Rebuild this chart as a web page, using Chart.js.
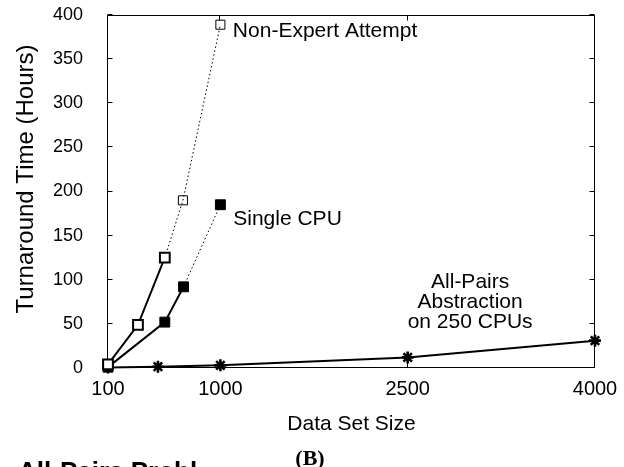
<!DOCTYPE html>
<html>
<head>
<meta charset="utf-8">
<script src="https://cdn.jsdelivr.net/npm/chart.js@4"></script>
<style>
  html, body { margin: 0; padding: 0; background: #fff; }
  canvas { display: block; }
</style>
</head>
<body>
<canvas id="turnaroundChart" width="624" height="467"></canvas>
<script>
// Data (data set size vs hours)
const xTickValues = [100, 1000, 2500, 4000];
const yTickStep = 50;

const nonExpertSizes = [100, 340, 555, 700, 1000];
const nonExpertHours = [4, 49, 125, 190, 389];

const singleCpuSizes = [100, 555, 705, 1000];
const singleCpuHours = [1, 52, 92, 185];

const allPairsSizes = [100, 500, 1000, 2500, 4000];
const allPairsHours = [0.5, 1.5, 3, 12, 31];

// curve labels, placed in data coordinates
const curveLabels = [
    { text: 'Non-Expert Attempt', x: 1100, y: 375, align: 'left' },
    { text: 'Single CPU', x: 1103, y: 162, align: 'left' },
    { text: 'All-Pairs', x: 3000, y: 90.7, align: 'center' },
    { text: 'Abstraction', x: 3000, y: 68, align: 'center' },
    { text: 'on 250 CPUs', x: 3000, y: 45, align: 'center' }
];

const toPoints = (xs, ys) => xs.map((v, i) => ({ x: v, y: ys[i] }));
// measured runs are solid, extrapolated ones dotted
const dottedFrom = 2;
const segStyle = {
    borderDash: ctx => ctx.p0DataIndex >= dottedFrom ? [1.5, 2.5] : undefined,
    borderWidth: ctx => ctx.p0DataIndex >= dottedFrom ? 1 : 2
};

Chart.defaults.font.family = '"Liberation Sans", Arial, Helvetica, sans-serif';
Chart.defaults.color = '#000';

const framePlugin = {
    id: 'frame',
    beforeDatasetsDraw(chart) {
        const { ctx, chartArea: a, scales: { x, y } } = chart;
        const L = Math.round(a.left) - 0.5, R = Math.round(a.right) - 0.5;
        const T = Math.round(a.top) + 0.5, B = Math.round(a.bottom) - 0.5;
        ctx.save();
        ctx.strokeStyle = '#000';
        ctx.lineWidth = 1;
        ctx.strokeRect(L, T, R - L, B - T);
        ctx.beginPath();
        for (let v = 0; v <= 400; v += yTickStep) {
            const py = Math.round(y.getPixelForValue(v)) - 0.5;
            ctx.moveTo(L, py); ctx.lineTo(L + 5, py);
            ctx.moveTo(R, py); ctx.lineTo(R - 5, py);
        }
        xTickValues.forEach(v => {
            const px = Math.round(x.getPixelForValue(v)) - 0.5;
            ctx.moveTo(px, B); ctx.lineTo(px, B - 5);
            ctx.moveTo(px, T); ctx.lineTo(px, T + 5);
        });
        ctx.stroke();
        ctx.restore();
    },
    afterDraw(chart) {
        const { ctx, chartArea: a, scales: { x, y } } = chart;
        ctx.save();
        ctx.fillStyle = '#000';
        ctx.textBaseline = 'alphabetic';

        ctx.font = '21px "Liberation Sans", Arial, sans-serif';
        curveLabels.forEach(l => {
            ctx.textAlign = l.align;
            ctx.fillText(l.text, x.getPixelForValue(l.x), y.getPixelForValue(l.y));
        });

        // axis titles
        ctx.textAlign = 'center';
        ctx.fillText('Data Set Size', (a.left + a.right) / 2, 430);
        ctx.save();
        ctx.translate(33, 179);
        ctx.rotate(-Math.PI / 2);
        ctx.font = '24px "Liberation Sans", Arial, sans-serif';
        ctx.fillText('Turnaround Time (Hours)', 0, 0);
        ctx.restore();

        // panel tag and the page text below it
        ctx.font = 'bold 22px "Liberation Serif", "Times New Roman", serif';
        ctx.fillText('(B)', 310, 465);
        ctx.textAlign = 'left';
        ctx.font = 'bold 26px "Liberation Sans", Arial, sans-serif';
        ctx.fillText('All-Pairs Probl', 18, 480);
        ctx.restore();
    }
};

const ctxTurn = document.getElementById('turnaroundChart').getContext('2d');
const turnChart = new Chart(ctxTurn, {
    type: 'scatter',
    data: {
        datasets: [{
            label: 'Non-Expert Attempt',
            data: toPoints(nonExpertSizes, nonExpertHours),
            showLine: true,
            borderColor: '#000',
            segment: segStyle,
            pointStyle: 'rect',
            pointRadius: [6.9, 6.9, 6.9, 6.4, 6.4],
            pointBorderWidth: [2, 2, 2, 1, 1],
            pointBorderColor: '#000',
            pointBackgroundColor: ['#fff', '#fff', '#fff', 'rgba(0,0,0,0)', 'rgba(0,0,0,0)'],
            clip: false
        }, {
            label: 'Single CPU',
            data: toPoints(singleCpuSizes, singleCpuHours),
            showLine: true,
            borderColor: '#000',
            segment: segStyle,
            pointStyle: 'rect',
            pointRadius: 7,
            pointBorderWidth: 1,
            pointBorderColor: '#000',
            pointBackgroundColor: '#000',
            clip: false
        }, {
            label: 'All-Pairs Abstraction on 250 CPUs',
            data: toPoints(allPairsSizes, allPairsHours),
            showLine: true,
            borderColor: '#000',
            borderWidth: 2,
            pointStyle: 'star',
            pointRadius: 6,
            pointBorderWidth: 2.6,
            pointBorderColor: '#000',
            clip: false
        }]
    },
    options: {
        responsive: false,
        animation: false,
        layout: { padding: { left: 0, top: 15, right: 29, bottom: 0 } },
        plugins: {
            legend: { display: false },
            tooltip: { enabled: false }
        },
        scales: {
            x: {
                type: 'linear',
                min: 100,
                max: 4000,
                grid: { display: false, drawTicks: false },
                border: { display: false },
                afterBuildTicks: s => { s.ticks = xTickValues.map(v => ({ value: v })); },
                afterFit: s => { s.height = 99; s.paddingLeft = 0; s.paddingRight = 0; },
                ticks: { font: { size: 20 }, padding: 9, maxRotation: 0, autoSkip: false, callback: v => String(v) }
            },
            y: {
                min: 0,
                max: 400,
                grid: { display: false, drawTicks: false },
                border: { display: false },
                afterFit: s => { s.width = 108; s.paddingTop = 0; s.paddingBottom = 0; },
                ticks: { stepSize: yTickStep, font: { size: 18 }, padding: 25 }
            }
        }
    },
    plugins: [framePlugin]
});
</script>
</body>
</html>
